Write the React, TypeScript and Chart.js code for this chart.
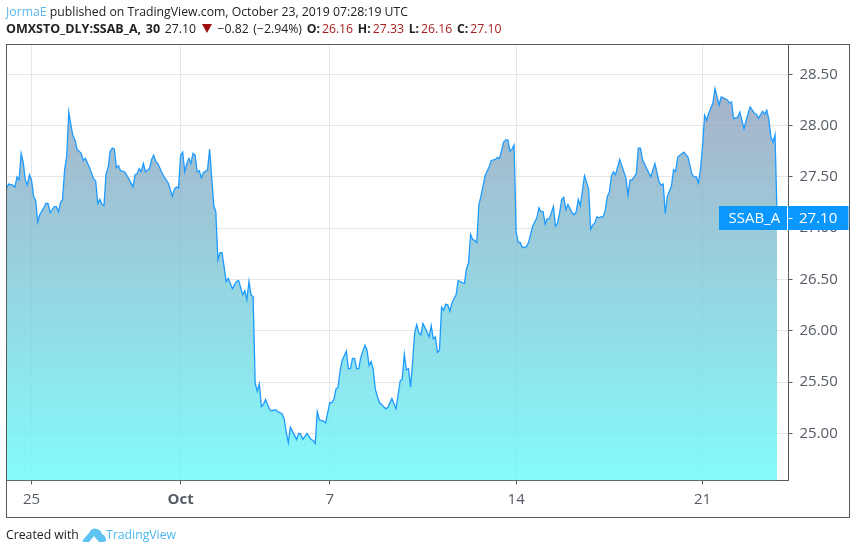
import React, { useEffect, useRef } from 'react';
import { Chart, registerables } from 'chart.js';

Chart.register(...registerables);

// 30 minute bars counted from the left edge, 18 bars per trading day
const bars = [
  0, 1, 3, 4, 5, 6, 7, 8, 9, 10,
  11, 12, 13, 14, 15, 16, 18, 19, 20, 21,
  23, 24, 25, 26, 27, 28, 29, 30, 31, 32,
  33, 34, 36, 37, 38, 40, 42, 43, 44, 45,
  46, 47, 48, 49, 50, 51, 52, 53, 54, 55,
  57, 59, 61, 62, 63, 64, 65, 66, 67, 69,
  70, 71, 72, 73, 75, 76, 78, 79, 80, 81,
  82, 83, 84, 85, 86, 87, 88, 89, 90, 91,
  92, 93, 94, 95, 97, 98, 99, 100, 101, 102,
  103, 104, 106, 107, 109, 111, 112, 114, 115, 116,
  117, 118, 119, 120, 121, 122, 123, 124, 125, 127,
  128, 130, 131, 133, 134, 135, 136, 137, 139, 140,
  141, 142, 143, 145, 147, 148, 149, 150, 151, 153,
  154, 156, 157, 158, 159, 160, 161, 162, 164, 165,
  166, 167, 168, 169, 170, 171, 173, 174, 175, 176,
  177, 178, 179, 180, 181, 183, 184, 186, 188, 190,
  191, 192, 193, 194, 195, 196, 197, 198, 199, 200,
  201, 202, 204, 205, 206, 207, 208, 209, 210, 211,
  212, 213, 214, 215, 217, 218, 220, 221, 222, 223,
  224, 225, 226, 227, 228, 229, 230, 231, 233, 234,
  236, 237, 238, 240, 241, 242, 243, 244, 245, 246,
  247, 248, 249, 251, 252, 254, 256, 257, 258, 259,
  260, 261, 262, 264, 265, 266, 267, 268, 269, 270,
  271, 273, 274, 275, 276, 277, 279, 281, 282, 283,
  284, 285, 286, 287, 288, 289, 290, 291, 292, 293,
  294, 296, 299, 300, 301, 302, 304, 305, 306, 307,
  309, 311, 313, 315, 316, 317, 318, 319, 321, 322,
  323, 324, 325, 327, 329, 331, 332, 333, 334, 335,
  336, 337, 338, 339, 340, 341, 342, 344, 345, 346,
  348, 349, 350, 351, 353, 354, 356, 358, 359, 361,
  362, 363, 365, 366, 367, 368, 369, 370, 371, 372,
];

const closes = [
  27.39, 27.43, 27.42, 27.40, 27.50, 27.47, 27.73, 27.64, 27.47, 27.42,
  27.52, 27.47, 27.31, 27.27, 27.06, 27.13, 27.20, 27.24, 27.24, 27.15,
  27.21, 27.21, 27.16, 27.25, 27.28, 27.57, 27.70, 28.13, 28.01, 27.90,
  27.86, 27.77, 27.73, 27.66, 27.68, 27.59, 27.48, 27.46, 27.24, 27.28,
  27.23, 27.22, 27.53, 27.59, 27.75, 27.78, 27.77, 27.59, 27.61, 27.56,
  27.55, 27.48, 27.40, 27.52, 27.53, 27.58, 27.55, 27.63, 27.55, 27.58,
  27.67, 27.71, 27.65, 27.63, 27.54, 27.50, 27.44, 27.38, 27.31, 27.38,
  27.40, 27.39, 27.71, 27.74, 27.55, 27.63, 27.68, 27.63, 27.73, 27.71,
  27.55, 27.56, 27.49, 27.54, 27.57, 27.77, 27.50, 27.22, 27.16, 26.69,
  26.76, 26.76, 26.48, 26.51, 26.41, 26.48, 26.49, 26.35, 26.39, 26.30,
  26.48, 26.35, 26.33, 25.49, 25.41, 25.48, 25.26, 25.28, 25.33, 25.23,
  25.22, 25.23, 25.21, 25.19, 25.14, 25.01, 24.91, 25.06, 24.98, 24.94,
  25.00, 24.99, 24.94, 25.00, 24.94, 24.93, 24.90, 25.21, 25.13, 25.12,
  25.10, 25.30, 25.30, 25.33, 25.43, 25.45, 25.61, 25.71, 25.80, 25.63,
  25.63, 25.73, 25.73, 25.63, 25.63, 25.74, 25.86, 25.81, 25.66, 25.70,
  25.62, 25.43, 25.36, 25.30, 25.28, 25.24, 25.25, 25.34, 25.24, 25.51,
  25.53, 25.77, 25.62, 25.63, 25.45, 25.69, 25.98, 26.06, 25.98, 25.96,
  26.07, 26.03, 25.94, 26.05, 25.92, 25.94, 25.79, 25.81, 26.23, 26.20,
  26.26, 26.25, 26.19, 26.27, 26.35, 26.49, 26.47, 26.46, 26.60, 26.66,
  26.94, 26.89, 26.88, 26.86, 27.23, 27.31, 27.41, 27.51, 27.60, 27.66,
  27.67, 27.69, 27.68, 27.84, 27.86, 27.86, 27.75, 27.77, 27.81, 26.96,
  26.86, 26.86, 26.81, 26.82, 26.86, 27.02, 27.10, 27.20, 27.16, 27.16,
  27.04, 27.09, 27.09, 27.21, 27.02, 27.05, 27.15, 27.28, 27.30, 27.18,
  27.23, 27.15, 27.13, 27.16, 27.28, 27.22, 27.51, 27.38, 26.99, 27.03,
  27.05, 27.11, 27.10, 27.11, 27.11, 27.17, 27.31, 27.35, 27.51, 27.55,
  27.52, 27.67, 27.49, 27.32, 27.47, 27.47, 27.53, 27.78, 27.78, 27.67,
  27.58, 27.50, 27.63, 27.45, 27.42, 27.43, 27.14, 27.31, 27.41, 27.57,
  27.55, 27.69, 27.71, 27.74, 27.69, 27.52, 27.50, 27.50, 27.44, 27.57,
  27.80, 28.10, 28.05, 28.12, 28.17, 28.22, 28.36, 28.20, 28.28, 28.27,
  28.25, 28.22, 28.23, 28.07, 28.08, 28.13, 27.97, 28.12, 28.18, 28.12,
  28.11, 28.07, 28.14, 28.11, 28.15, 28.06, 27.89, 27.84, 27.91, 27.10,
];

const dateTicks = [12, 84, 156, 246, 336];
const dateLabels = ['25', 'Oct', '7', '14', '21'];
const priceTicks = [25, 25.5, 26, 26.5, 27, 27.5, 28, 28.5];

const FONT = '"Open Sans", sans-serif';
const INK = '#555b66';
const FRAME = '#5a5a5a';
const BLUE = '#0a97ff';
const RED = '#a81c1c';

// the SSAB_A / 27.10 tag on the price axis
const lastPriceTag = {
  id: 'lastPriceTag',
  afterDraw(chart: any) {
    const { ctx, chartArea, scales } = chart;
    const last = closes[closes.length - 1];
    const y = Math.round(scales.y.getPixelForValue(last));
    ctx.save();
    ctx.fillStyle = BLUE;
    ctx.fillRect(chartArea.right - 69.5, y - 12, 68, 24);
    ctx.fillRect(chartArea.right - 0.5, y - 12, 60.5, 24);
    ctx.fillStyle = '#fff';
    ctx.fillRect(chartArea.right, y, 4, 1);
    ctx.font = `15px ${FONT}`;
    ctx.textBaseline = 'middle';
    ctx.textAlign = 'left';
    ctx.fillText('SSAB_A', chartArea.right - 60, y + 1);
    ctx.fillText(last.toFixed(2), chartArea.right + 10.5, y + 1);
    ctx.restore();
  },
};

function PriceChart() {
  const canvasRef = useRef<HTMLCanvasElement>(null);

  useEffect(() => {
    if (!canvasRef.current) return;

    const chart = new Chart(canvasRef.current, {
      type: 'line',
      data: {
        datasets: [{
          data: bars.map((bar, i) => ({ x: bar, y: closes[i] })),
          borderColor: '#1e9bff',
          borderWidth: 1.3,
          pointRadius: 0,
          tension: 0,
          fill: 'start',
          backgroundColor: (ctx: any) => {
            const area = ctx.chart.chartArea;
            if (!area) return 'transparent';
            const g = ctx.chart.ctx.createLinearGradient(0, area.top + 30, 0, area.bottom);
            g.addColorStop(0, 'rgba(140, 150, 180, 0.75)');
            g.addColorStop(1, 'rgba(110, 250, 252, 0.85)');
            return g;
          },
        }],
      },
      options: {
        animation: false,
        responsive: false,
        layout: { padding: { left: 6.5, top: 44.5, right: 6.5, bottom: 36.5 } },
        plugins: { legend: { display: false }, tooltip: { enabled: false } },
        scales: {
          x: {
            type: 'linear',
            min: -0.07,
            max: 377.5,
            afterFit: (scale: any) => { scale.height = 36; },
            afterBuildTicks: (scale: any) => {
              scale.ticks = dateTicks.map((value) => ({ value }));
            },
            grid: { color: '#e6e6e6', tickColor: FRAME, tickLength: 4 },
            border: { color: FRAME },
            ticks: {
              autoSkip: false,
              maxRotation: 0,
              padding: 6,
              color: INK,
              font: (ctx: any) => ({
                family: FONT,
                size: 15,
                weight: dateLabels[ctx.index] === 'Oct' ? 'bold' : 'normal',
              }),
              callback: (value: any) => dateLabels[dateTicks.indexOf(value)],
            },
          },
          y: {
            position: 'right',
            min: 24.54,
            max: 28.79,
            afterFit: (scale: any) => { scale.width = 61; },
            afterBuildTicks: (scale: any) => {
              scale.ticks = priceTicks.map((value) => ({ value }));
            },
            grid: { color: '#e6e6e6', tickColor: FRAME, tickLength: 4 },
            border: { color: FRAME },
            ticks: {
              padding: 7,
              color: INK,
              font: { family: FONT, size: 15 },
              callback: (value: any) => Number(value).toFixed(2),
            },
          },
        },
      },
      plugins: [lastPriceTag],
    });

    return () => chart.destroy();
  }, []);

  return <canvas ref={canvasRef} width={856} height={553} style={{ display: 'block' }} />;
}

export default function App() {
  const text: React.CSSProperties = {
    position: 'absolute',
    left: 6,
    whiteSpace: 'nowrap',
    fontFamily: FONT,
    fontSize: 12.25,
    lineHeight: '16px',
    color: '#222',
  };
  const red = { color: RED };
  const bold = { fontWeight: 700, marginRight: 2 };
  const triangle: React.CSSProperties = {
    display: 'inline-block',
    width: 0,
    height: 0,
    margin: '0 1px',
    borderLeft: '5px solid transparent',
    borderRight: '5px solid transparent',
    borderTop: '9px solid #a00f0f',
  };

  return (
    <div style={{ position: 'fixed', left: 0, top: 0, width: 856, height: 553, background: '#fff', overflow: 'hidden' }}>
      <PriceChart />
      <div style={{ position: 'absolute', left: 6, top: 44, width: 842, height: 472, border: `1px solid ${FRAME}` }} />
      <div style={{ ...text, top: 4 }}>
        <span style={{ color: '#5bb8f0' }}>JormaE</span> published on TradingView.com, October 23, 2019 07:28:19 UTC
      </div>
      <div style={{ ...text, top: 21, wordSpacing: 1.5 }}>
        <span style={{ fontWeight: 700, fontSize: 12.5 }}>OMXSTO_DLY:SSAB_A, 30</span>{' '}27.10{' '}
        <span style={triangle} />{' '}−0.82 (−2.94%){' '}
        <span style={bold}>O:</span><span style={red}>26.16</span>{' '}
        <span style={bold}>H:</span><span style={red}>27.33</span>{' '}
        <span style={bold}>L:</span><span style={red}>26.16</span>{' '}
        <span style={bold}>C:</span><span style={red}>27.10</span>
      </div>
      <div style={{ ...text, top: 527 }}>Created with</div>
      <svg style={{ position: 'absolute', left: 82, top: 527 }} width="24" height="16" viewBox="0 0 24 16">
        <path d="M0 14 L7 6 Q10 0 15 2 Q19 3 20 7 Q24 9 24 13 Q24 15 21 15 L17 15 L12 9 L7 15 L2 15 Z" fill="#5ec2f2" />
      </svg>
      <div style={{ ...text, top: 527, left: 106, color: '#4db8ee' }}>TradingView</div>
    </div>
  );
}
